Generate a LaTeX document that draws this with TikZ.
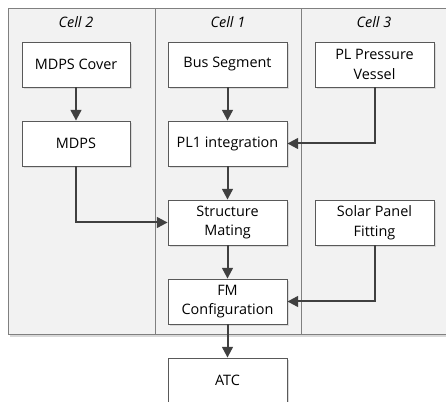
\documentclass[tikz,border=0pt]{standalone}
\usepackage{fontspec}
\setmainfont{Open Sans}
\usetikzlibrary{arrows.meta,shadows}
\begin{document}
\begin{tikzpicture}[x=0.75pt,y=-0.75pt,
  lane/.style={draw=black!50,fill=black!5,line width=0.6pt},
  box/.style={draw=black!65,fill=white,line width=0.6pt,minimum width=89.25pt,minimum height=33.75pt,inner sep=1pt,align=center,font=\fontsize{10.8}{14.8}\selectfont,
    drop shadow={shadow xshift=1.5pt,shadow yshift=-1.5pt,fill=black!15,opacity=1}},
  hdr/.style={font=\fontsize{10.8}{13}\selectfont\itshape},
  conn/.style={draw=black!75,line width=1.5pt,-{Triangle[length=8pt,width=8pt]}}]
\useasboundingbox (0,0) rectangle (446,402);
\begin{scope}
\clip (0,0) rectangle (446,402);
\fill[black!15] (10,10) rectangle (450,337);
\draw[lane] (8,8) rectangle (155,334);
\draw[lane] (155,8) rectangle (301,334);
\draw[lane] (301,8) rectangle (450,334);
\end{scope}
\node[hdr] (h2) at (76,22) {Cell 2};
\node[hdr] (h1) at (228,22) {Cell 1};
\node[hdr] (h3) at (374,22) {Cell 3};
\node[box,minimum width=81pt] (mc) at (76,64.5) {MDPS Cover};
\node[box,minimum width=81pt] (md) at (76,143.5) {MDPS};
\node[box] (bs) at (227.5,64.5) {Bus Segment};
\node[box] (pl1) at (227.5,143.5) {PL1 integration};
\node[box] (sm) at (227.5,222.5) {Structure\\Mating};
\node[box] (fm) at (227.5,301.5) {FM\\Configuration};
\node[box] (atc) at (227.5,380.5) {ATC};
\node[box] (pv) at (374.5,64.5) {PL Pressure\\Vessel};
\node[box] (sp) at (374.5,222.5) {Solar Panel\\Fitting};
\draw[conn] (mc) -- (md);
\draw[conn] (bs) -- (pl1);
\draw[conn] (pl1) -- (sm);
\draw[conn] (sm) -- (fm);
\draw[conn] (fm) -- (atc);
\draw[conn] (pv.south) |- (pl1.east);
\draw[conn] (sp.south) |- (fm.east);
\draw[conn] (md.south) |- (sm.west);
\end{tikzpicture}
\end{document}
